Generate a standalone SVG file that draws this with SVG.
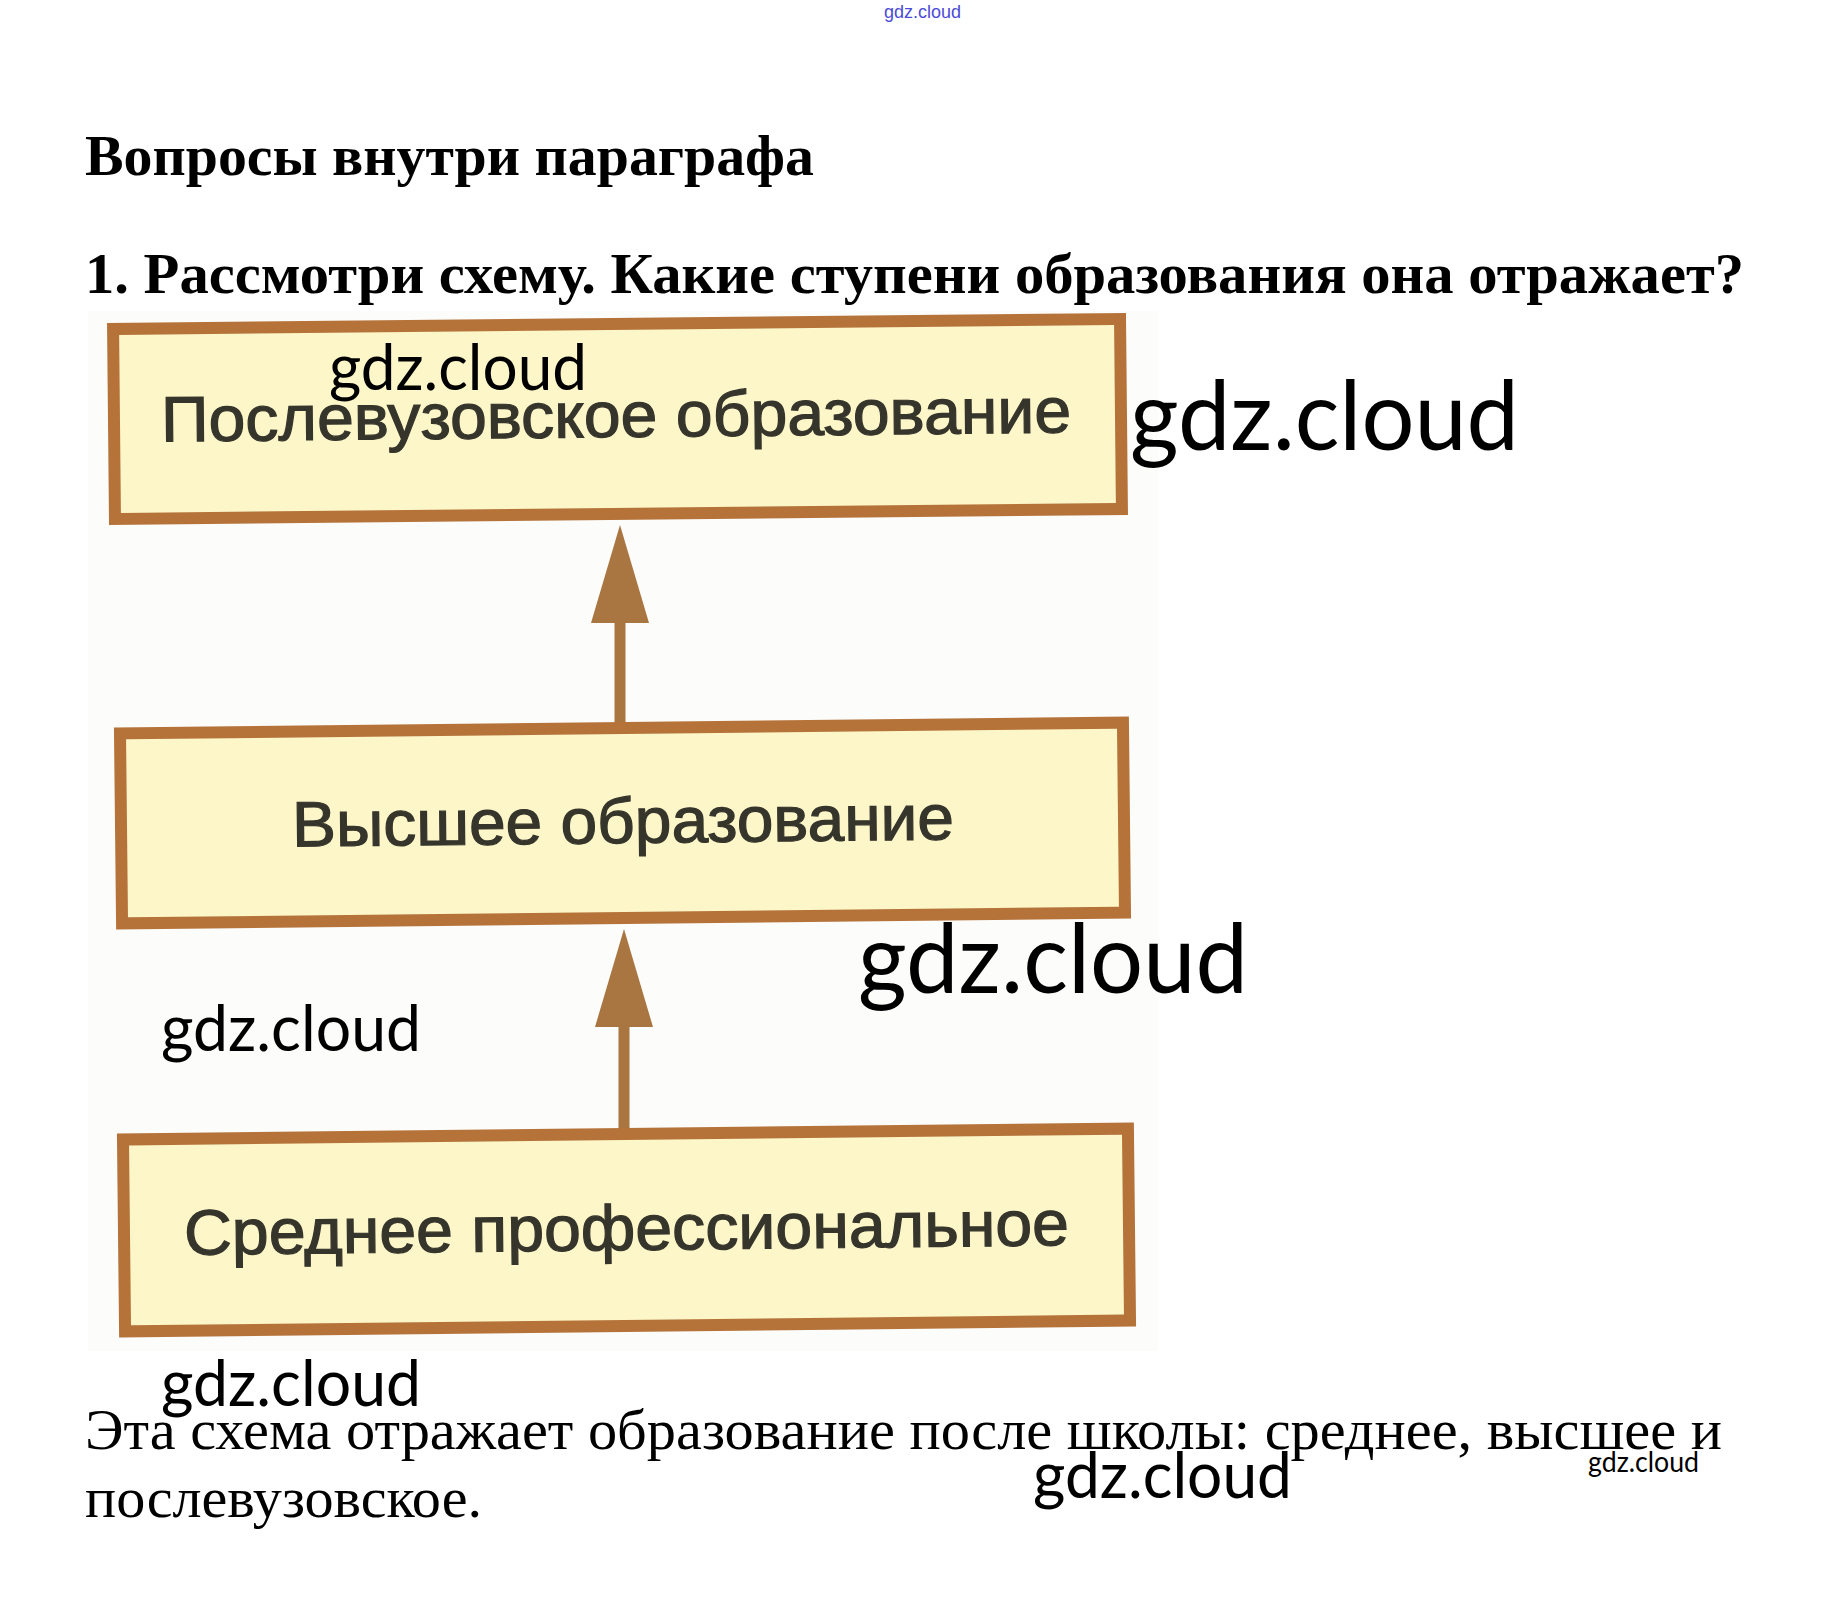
<svg xmlns="http://www.w3.org/2000/svg" width="1842" height="1610" viewBox="0 0 1842 1610">
<style>
.hd{font-family:"Liberation Serif","Times New Roman",serif;font-weight:bold;font-size:57px;fill:#000}
.ans{font-family:"Liberation Serif","Times New Roman",serif;font-size:56px;fill:#000}
.box{fill:#fcf6c9;stroke:#b5733a;stroke-width:12}
.lbl{font-family:"Liberation Sans",Arial,sans-serif;font-size:64px;fill:#36352b;stroke:#36352b;stroke-width:1.2;text-anchor:middle}
.wm{font-family:Lato,"Open Sans",sans-serif;fill:#000}
.conn{stroke:#a97540;stroke-width:11;fill:none}
</style>
<defs>
<marker id="ah" markerUnits="userSpaceOnUse" markerWidth="98" markerHeight="58" viewBox="0 0 98 58" refX="0" refY="29" orient="auto">
<path d="M0,0 L98,29 L0,58 Z" fill="#a97540"/>
</marker>
</defs>
<rect x="0" y="0" width="1842" height="1610" fill="#fff"/>
<rect x="88" y="311" width="1070" height="1040" fill="#fcfcfa"/>
<text x="884" y="18" font-family="'Liberation Sans Narrow','Liberation Sans',sans-serif" font-size="19" fill="#4b4bd6" textLength="77" lengthAdjust="spacingAndGlyphs">gdz.cloud</text>
<text class="hd" x="85" y="175" textLength="729" lengthAdjust="spacingAndGlyphs">Вопросы внутри параграфа</text>
<text class="hd" x="85" y="293" textLength="1659" lengthAdjust="spacingAndGlyphs">1. Рассмотри схему. Какие ступени образования она отражает?</text>
<g id="connectors">
<line class="conn" x1="620" y1="724" x2="620" y2="623" marker-end="url(#ah)"/>
<line class="conn" x1="624" y1="1130" x2="624" y2="1027" marker-end="url(#ah)"/>
</g>
<g id="node-postgrad" transform="rotate(-0.57 617.5 419)">
<rect class="box" x="114" y="324" width="1007" height="190"/>
<text class="lbl" x="616" y="437" textLength="910" lengthAdjust="spacingAndGlyphs">Послевузовское образование</text>
</g>
<g id="node-higher" transform="rotate(-0.62 622.5 823)">
<rect class="box" x="121" y="728" width="1003" height="190"/>
<text class="lbl" x="623" y="843" font-size="63" textLength="662" lengthAdjust="spacingAndGlyphs">Высшее образование</text>
</g>
<g id="node-secondary" transform="rotate(-0.62 626.5 1230)">
<rect class="box" x="124" y="1134" width="1005" height="192"/>
<text class="lbl" x="626.5" y="1250" font-size="65" textLength="885" lengthAdjust="spacingAndGlyphs">Среднее профессиональное</text>
</g>
<text class="ans" x="85" y="1449" textLength="1637" lengthAdjust="spacingAndGlyphs">Эта схема отражает образование после школы: среднее, высшее и</text>
<text class="ans" x="85" y="1517" textLength="397" lengthAdjust="spacingAndGlyphs">послевузовское.</text>
<g id="watermarks">
<text class="wm" x="329" y="390" font-size="64" textLength="258" lengthAdjust="spacingAndGlyphs">gdz.cloud</text>
<text class="wm" x="1130" y="450" font-size="96" textLength="389" lengthAdjust="spacingAndGlyphs">gdz.cloud</text>
<text class="wm" x="858" y="993" font-size="96" textLength="390" lengthAdjust="spacingAndGlyphs">gdz.cloud</text>
<text class="wm" x="161" y="1051" font-size="64" textLength="260" lengthAdjust="spacingAndGlyphs">gdz.cloud</text>
<text class="wm" x="161" y="1406" font-size="64" textLength="260" lengthAdjust="spacingAndGlyphs">gdz.cloud</text>
<text class="wm" x="1033" y="1498" font-size="64" textLength="259" lengthAdjust="spacingAndGlyphs">gdz.cloud</text>
<text class="wm" x="1588" y="1472" font-size="28" textLength="111" lengthAdjust="spacingAndGlyphs">gdz.cloud</text>
</g>
</svg>
